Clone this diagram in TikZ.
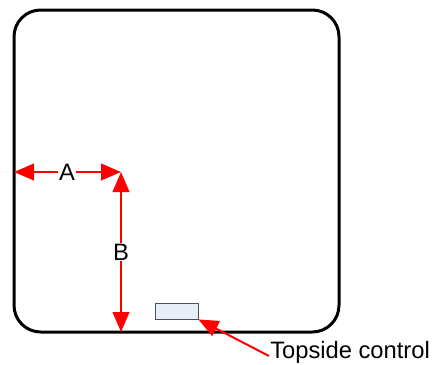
\documentclass[tikz,border=0pt]{standalone}
\usepackage{fontspec}
\setmainfont{Liberation Sans}
\usetikzlibrary{arrows.meta}

\tikzset{
  dimarrow/.style={draw={rgb, 255:red, 255; green, 0; blue, 0 }, line width=1.5pt,
    {Triangle[length=15pt,width=12.5pt]}-{Triangle[length=15pt,width=12.5pt]}},
  callout/.style={draw={rgb, 255:red, 255; green, 0; blue, 0 }, line width=1.5pt,
    -{Triangle[length=15pt,width=12.5pt]}},
  dimlabel/.style={fill=white, inner sep=0.75pt, font=\fontsize{17.8}{20}\selectfont}
}

\begin{document}
\begin{tikzpicture}[x=0.75pt,y=0.75pt,yscale=-1,xscale=1]
    \useasboundingbox (0,0) rectangle (435,364);

    %Shape: Rounded Rect [id:tank]
    \draw [line width=2.25pt, rounded corners=20pt] (14,10) rectangle (339,332);
    \coordinate (wallL) at (14,172);
    \coordinate (corner) at (121,172);
    \coordinate (floor) at (121,332);

    %Shape: Rectangle [id:ctrl]
    \node (ctrl) [draw={rgb, 255:red, 80; green, 80; blue, 80 }, line width=0.6pt, fill={rgb, 255:red, 232; green, 238; blue, 248 },
      minimum width=32.25pt, minimum height=12pt, inner sep=0pt] at (176.5,311) {};

    %Straight Lines [id:A]
    \draw [dimarrow] (wallL) -- (corner) ;
    %Straight Lines [id:B]
    \draw [dimarrow] (corner) -- (floor) ;

    % Text Node
    \node (labA) [dimlabel] at (67,172) {A};
    % Text Node
    \node (labB) [dimlabel] at (121,252) {B};
    % Text Node
    \node (ctrllabel) [anchor=west, inner sep=0.75pt, font=\fontsize{17.8}{20}\selectfont] at (269,352) {Topside control};

    %Straight Lines [id:callout]
    \draw [callout] ([yshift=3pt]ctrllabel.west) -- (ctrl.south east) ;

\end{tikzpicture}
\end{document}
